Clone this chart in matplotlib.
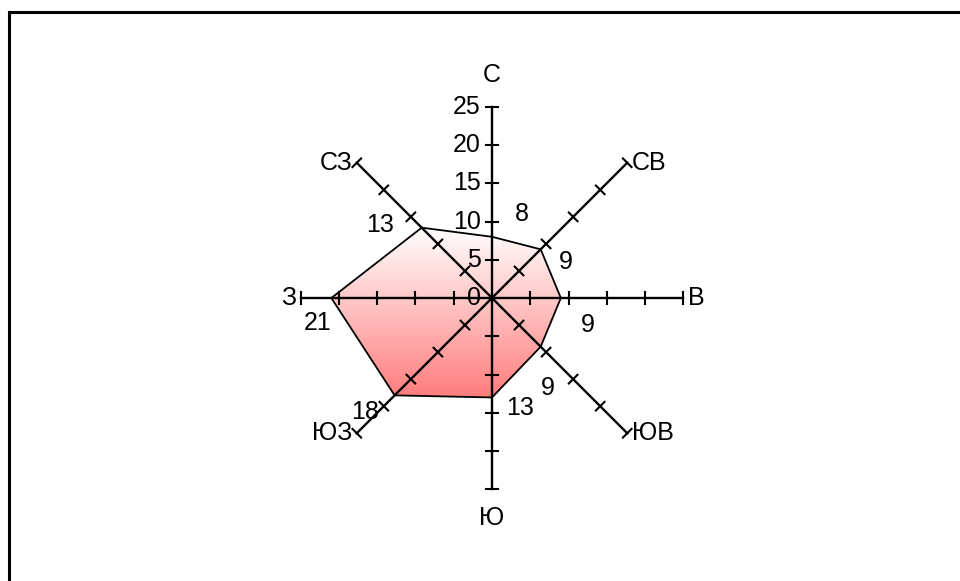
"""Wind rose (роза ветров) for 8 compass directions, gradient-filled polygon."""

import matplotlib

matplotlib.use("Agg")
import matplotlib.pyplot as plt
import numpy as np
from matplotlib.patches import Polygon, Rectangle

plt.rcParams["font.family"] = ["Liberation Sans", "DejaVu Sans"]

# data
DIRECTIONS = ["С", "СВ", "В", "ЮВ", "Ю", "ЮЗ", "З", "СЗ"]
ANGLES_DEG = [90, 45, 0, -45, -90, -135, 180, 135]
VALUES = [8, 9, 9, 9, 13, 18, 21, 13]
SCALE_TICKS = [0, 5, 10, 15, 20, 25]

# styling / layout
R_MAX = 25
PX_PER_UNIT = 7.65
CENTER_PX = (492, 298)  # from top-left
W, H = 960, 581
TICK_HALF = 0.8
FS = 18
RED = np.array([255, 125, 125]) / 255.0

# value label offsets (units), per direction
VAL_OFFSETS = [(3.9, 3.0), (3.3, -1.7), (3.5, -3.5), (0.9, -5.4),
               (3.7, -1.4), (-3.9, -2.2), (-1.8, -3.3), (-5.4, 0.3)]


def main():
    fig = plt.figure(figsize=(W / 100, H / 100), dpi=100)
    ax = fig.add_axes([0, 0, 1, 1])
    cx, cy = CENTER_PX
    ax.set_xlim(-cx / PX_PER_UNIT, (W - cx) / PX_PER_UNIT)
    ax.set_ylim(-(H - cy) / PX_PER_UNIT, cy / PX_PER_UNIT)
    ax.set_aspect("equal")
    ax.axis("off")

    # frame (only top/left visible in the crop)
    x0, x1 = ax.get_xlim()
    y0, y1 = ax.get_ylim()
    fx = x0 + 9 / PX_PER_UNIT
    fy = y1 - 12 / PX_PER_UNIT
    ax.add_patch(Rectangle((fx, y0 - 5), x1 - fx + 5, fy - y0 + 5,
                           fill=False, lw=2.2, ec="black", zorder=1))

    ang = np.radians(ANGLES_DEG)
    dx, dy = np.cos(ang), np.sin(ang)
    vals = np.array(VALUES, dtype=float)
    px, py = vals * dx, vals * dy

    # gradient fill clipped to the polygon
    poly = Polygon(np.column_stack([px, py]), closed=True,
                   fc="none", ec="black", lw=1.3, zorder=4)
    ax.add_patch(poly)
    top, bot = py.max(), py.min()
    t = np.linspace(0, 1, 256)[:, None]
    grad = (1 - t) * np.ones(3) + t * RED  # row 0 = top
    img = np.repeat(grad[:, None, :], 2, axis=1)
    im = ax.imshow(img, extent=(px.min(), px.max(), bot, top),
                   origin="upper", aspect="auto", zorder=2, interpolation="bilinear")
    clip = Polygon(np.column_stack([px, py]), closed=True, transform=ax.transData)
    im.set_clip_path(clip)

    # axes with ticks
    ticks = np.array(SCALE_TICKS[1:], dtype=float)
    for i in range(len(DIRECTIONS)):
        ax.plot([0, R_MAX * dx[i]], [0, R_MAX * dy[i]], color="black", lw=1.7, zorder=3)
        nx, ny = -dy[i], dx[i]
        for r in ticks:
            bx, by = r * dx[i], r * dy[i]
            ax.plot([bx - TICK_HALF * nx, bx + TICK_HALF * nx],
                    [by - TICK_HALF * ny, by + TICK_HALF * ny],
                    color="black", lw=1.5, zorder=3)

    # scale labels along the north axis
    for v in SCALE_TICKS:
        ax.text(-1.5, v, str(v), ha="right", va="center", fontsize=FS, zorder=5)

    # direction labels
    for i, name in enumerate(DIRECTIONS):
        a = ANGLES_DEG[i]
        ex, ey = R_MAX * dx[i], R_MAX * dy[i]
        if a == 90:
            ax.text(ex, ey + 4.2, name, ha="center", va="center", fontsize=FS)
        elif a == -90:
            ax.text(ex, ey - 3.7, name, ha="center", va="center", fontsize=FS)
        elif dx[i] > 0.1:
            ax.text(ex + 0.6, ey, name, ha="left", va="center", fontsize=FS)
        else:
            ax.text(ex - 0.6, ey, name, ha="right", va="center", fontsize=FS)

    # value labels
    for i, v in enumerate(VALUES):
        ox, oy = VAL_OFFSETS[i]
        ax.text(px[i] + ox, py[i] + oy, str(v), ha="center", va="center",
                fontsize=FS, zorder=5)

    fig.savefig("out.png", dpi=100)
    plt.close(fig)


if __name__ == "__main__":
    main()
